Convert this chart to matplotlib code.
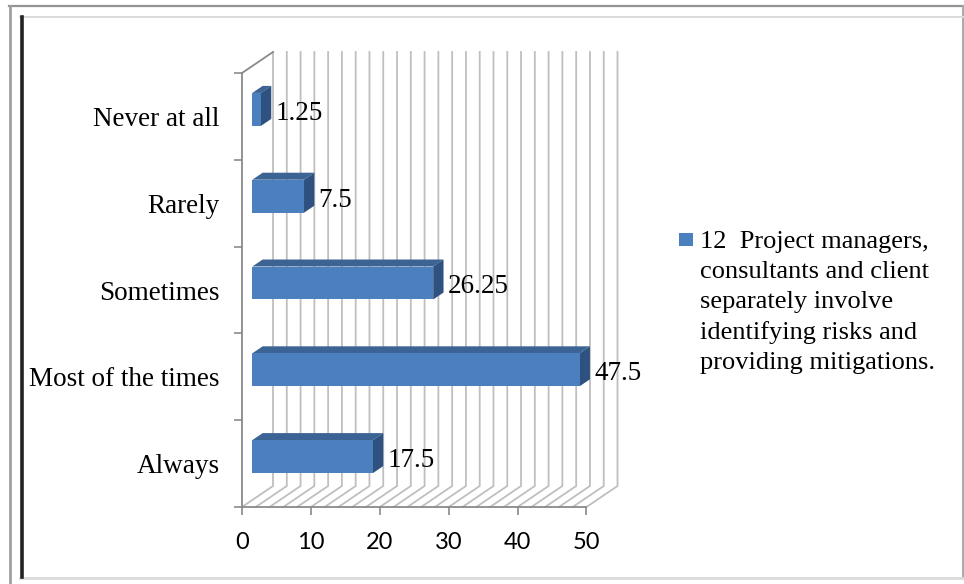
import matplotlib
matplotlib.use("Agg")
import matplotlib.pyplot as plt
from matplotlib.patches import Polygon, Rectangle
from matplotlib.lines import Line2D

# survey answers, bottom to top
categories = ["Always", "Most of the times", "Sometimes", "Rarely", "Never at all"]
values = [17.5, 47.5, 26.25, 7.5, 1.25]
x_ticks = [0, 10, 20, 30, 40, 50]
legend_label = ("12  Project managers,\nconsultants and client\nseparately involve\n"
                "identifying risks and\nproviding mitigations.")

W, H = 964, 584
fig = plt.figure(figsize=(W / 100, H / 100), dpi=100)
fig.patch.set_facecolor("white")

# oblique depth offset of the back wall (data units)
DX, DY = 4.5, 0.242
XMAX, NCAT = 50, len(categories)

left_px, bot_px = 242, 507
xscale = (586.5 - 242) / XMAX
yscale = (507 - 73) / NCAT
ax_w = (XMAX + DX) * xscale
ax_h = (NCAT + DY) * yscale
ax = fig.add_axes([left_px / W, 1 - bot_px / H, ax_w / W, ax_h / H])
ax.set_xlim(0, XMAX + DX)
ax.set_ylim(0, NCAT + DY)
for s in ax.spines.values():
    s.set_visible(False)

grid_c = "#bfbfbf"
axis_c = "#8a8a8a"

# back wall + floor gridlines every 2 units
for v in range(0, XMAX + 1, 2):
    ax.plot([v + DX, v + DX, v], [NCAT + DY, DY, 0], color=grid_c, lw=1.3,
            zorder=1, clip_on=False, solid_joinstyle="miter")

# front axis lines
ax.plot([0, XMAX], [0, 0], color=axis_c, lw=1.3, zorder=2, clip_on=False)
ax.plot([0, 0], [0, NCAT], color=axis_c, lw=1.3, zorder=2, clip_on=False)
ax.plot([0, DX], [NCAT, NCAT + DY], color=axis_c, lw=1.3, zorder=2, clip_on=False)

# 3d bars, sitting in the middle third of the depth
f0, f1 = 1 / 3, 2 / 3
h = 0.19
front_c, top_c, side_c = "#4b7fbd", "#3b6394", "#2e5180"
for i, v in enumerate(values):
    c = i + 0.5
    yb, yt = c - h + f0 * DY, c + h + f0 * DY
    x0 = f0 * DX
    ax.add_patch(Polygon([(x0, yt), (x0 + v, yt), (v + f1 * DX, yt + (f1 - f0) * DY),
                          (f1 * DX, yt + (f1 - f0) * DY)],
                         closed=True, facecolor=top_c, edgecolor="none", zorder=3))
    ax.add_patch(Polygon([(x0 + v, yb), (v + f1 * DX, yb + (f1 - f0) * DY),
                          (v + f1 * DX, yt + (f1 - f0) * DY), (x0 + v, yt)],
                         closed=True, facecolor=side_c, edgecolor="none", zorder=3))
    ax.add_patch(Rectangle((x0, yb), v, yt - yb, facecolor=front_c,
                           edgecolor="none", zorder=4))
    ax.text(v + f1 * DX + 0.6, c + f0 * DY - 0.045, f"{v:g}", ha="left", va="center",
            fontsize=19.5, family="Liberation Serif", color="black", zorder=5)

# ticks and labels
ax.set_xticks(x_ticks)
ax.set_xticklabels([str(t) for t in x_ticks], family="Lato", fontsize=17)
ax.tick_params(axis="x", direction="out", length=5.8, width=1.2, color=axis_c, pad=12)
ax.set_yticks([i + 0.5 for i in range(NCAT)])
ax.set_yticklabels(categories, family="Liberation Serif", fontsize=19.5)
ax.set_yticks(range(NCAT + 1), minor=True)
ax.tick_params(axis="y", which="major", length=0, pad=16)
ax.tick_params(axis="y", which="minor", direction="out", length=5.8, width=1.2, color=axis_c)

# legend key and text
fig.patches.append(Rectangle((679 / W, 1 - 246 / H), 14 / W, 13 / H,
                             transform=fig.transFigure, facecolor=front_c,
                             edgecolor="none"))
fig.text(700 / W, 1 - 231 / H, legend_label, ha="left", va="top",
         family="Liberation Serif", fontsize=19, linespacing=1.46)


def fline(xs, ys, color, lw):
    fig.add_artist(Line2D([x / W for x in xs], [1 - y / H for y in ys],
                          transform=fig.transFigure, color=color, lw=lw))


# outer frame
fline([9, 963], [6, 6], "#939393", 1.6)
fline([10, 10], [6, 584], "#a0a0a0", 2.0)
fline([963, 963], [6, 578], "#a8a8a8", 1.4)
fline([20, 963], [16.5, 16.5], "#dadada", 1.4)
fline([20, 963], [577.5, 577.5], "#dadada", 2.0)
fline([22, 22], [17, 577], "#222222", 2.6)

fig.savefig("out.png", dpi=100)
